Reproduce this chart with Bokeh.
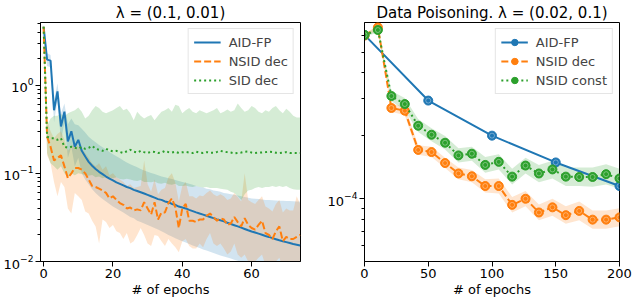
from bokeh.plotting import figure
from bokeh.models import Range1d, FixedTicker, LogTickFormatter, Legend, LegendItem
from bokeh.layouts import row
from bokeh.embed import file_html
from bokeh.resources import INLINE

BLUE = "#1f77b4"
ORANGE = "#ff7f0e"
GREEN = "#2ca02c"
FONT = "DejaVu Sans"

# ---------------- left panel data: lambda = (0.1, 0.01) ----------------
epochs_left = list(range(75))
aid_mean = [4.6, 1.95, 1.9, 0.52, 0.85, 0.34, 0.50, 0.23, 0.30, 0.20,
            0.24, 0.18, 0.155, 0.135, 0.122, 0.112, 0.104, 0.098, 0.092, 0.087,
            0.083, 0.079, 0.076, 0.073, 0.070, 0.068, 0.065, 0.063, 0.061, 0.059,
            0.057, 0.055, 0.053, 0.051, 0.050, 0.048, 0.047, 0.045, 0.044, 0.042,
            0.041, 0.040, 0.0385, 0.0373, 0.0361, 0.035, 0.034, 0.033, 0.032, 0.031,
            0.030, 0.0293, 0.0285, 0.0275, 0.0266, 0.0258, 0.025, 0.0242, 0.0234, 0.0226,
            0.0219, 0.0213, 0.0207, 0.0201, 0.0195, 0.019, 0.0184, 0.0179, 0.0174, 0.017,
            0.0166, 0.0162, 0.0158, 0.0155, 0.0152]
aid_hi = [4.9, 2.3, 2.2, 0.68, 1.05, 0.48, 0.62, 0.36, 0.42, 0.36,
          0.35, 0.32, 0.29, 0.26, 0.24, 0.225, 0.21, 0.198, 0.186, 0.175,
          0.165, 0.156, 0.148, 0.14, 0.133, 0.127, 0.122, 0.117, 0.112, 0.108,
          0.104, 0.101, 0.098, 0.095, 0.092, 0.09, 0.088, 0.086, 0.084, 0.082,
          0.08, 0.078, 0.076, 0.074, 0.072, 0.07, 0.069, 0.067, 0.066, 0.064,
          0.063, 0.062, 0.06, 0.059, 0.058, 0.057, 0.056, 0.055, 0.054, 0.053,
          0.052, 0.0515, 0.051, 0.0505, 0.05, 0.0498, 0.0495, 0.0492, 0.049, 0.0488,
          0.0486, 0.0484, 0.0482, 0.048, 0.048]
aid_lo = [4.3, 1.65, 1.6, 0.38, 0.68, 0.23, 0.38, 0.15, 0.2, 0.12,
          0.15, 0.1, 0.085, 0.075, 0.066, 0.06, 0.055, 0.051, 0.048, 0.045,
          0.042, 0.04, 0.038, 0.036, 0.034, 0.032, 0.031, 0.029, 0.028, 0.027,
          0.026, 0.025, 0.024, 0.023, 0.022, 0.021, 0.02, 0.0192, 0.0184, 0.0177,
          0.017, 0.0164, 0.0158, 0.0152, 0.0147, 0.0142, 0.0137, 0.0133, 0.0129, 0.0125,
          0.0121, 0.0117, 0.0114, 0.0111, 0.0108, 0.0105, 0.0102, 0.0099, 0.0097, 0.0095,
          0.0093, 0.0091, 0.0089, 0.0087, 0.0085, 0.0083, 0.0081, 0.0079, 0.0077, 0.0075,
          0.0073, 0.0071, 0.0069, 0.0067, 0.0065]

nsid_mean = [4.6, 0.26, 0.20, 0.14, 0.15, 0.16, 0.12, 0.088, 0.10, 0.115,
             0.115, 0.11, 0.10, 0.085, 0.072, 0.07, 0.067, 0.064, 0.06, 0.052,
             0.055, 0.05, 0.046, 0.044, 0.04, 0.041, 0.038, 0.039, 0.038, 0.047,
             0.04, 0.034, 0.047, 0.030, 0.036, 0.036, 0.046, 0.052, 0.041, 0.024,
             0.04, 0.045, 0.029, 0.029, 0.028, 0.03, 0.03, 0.033, 0.035, 0.032,
             0.029, 0.031, 0.03, 0.026, 0.027, 0.032, 0.028, 0.025, 0.031, 0.026,
             0.024, 0.023, 0.026, 0.029, 0.021, 0.02, 0.018, 0.022, 0.025, 0.017,
             0.019, 0.018, 0.018, 0.019, 0.020]
nsid_hi = [4.8, 0.4, 0.3, 0.25, 0.28, 0.3, 0.24, 0.18, 0.2, 0.22,
           0.2, 0.19, 0.17, 0.15, 0.13, 0.12, 0.13, 0.11, 0.12, 0.095,
           0.1, 0.09, 0.085, 0.08, 0.072, 0.075, 0.068, 0.07, 0.072, 0.14,
           0.075, 0.062, 0.085, 0.058, 0.065, 0.068, 0.09, 0.1, 0.078, 0.048,
           0.072, 0.08, 0.055, 0.055, 0.052, 0.056, 0.055, 0.06, 0.064, 0.058,
           0.055, 0.058, 0.055, 0.05, 0.052, 0.06, 0.054, 0.048, 0.1, 0.05,
           0.047, 0.045, 0.05, 0.055, 0.042, 0.04, 0.037, 0.045, 0.05, 0.036,
           0.04, 0.038, 0.038, 0.055, 0.045]
nsid_lo = [4.4, 0.16, 0.13, 0.08, 0.055, 0.08, 0.07, 0.04, 0.035, 0.06,
           0.055, 0.05, 0.037, 0.035, 0.029, 0.025, 0.016, 0.03, 0.028, 0.024,
           0.026, 0.022, 0.021, 0.018, 0.021, 0.016, 0.017, 0.02, 0.024, 0.02,
           0.016, 0.015, 0.02, 0.0195, 0.017, 0.015, 0.018, 0.016, 0.0145, 0.0127,
           0.017, 0.018, 0.015, 0.014, 0.014, 0.016, 0.0145, 0.018, 0.021, 0.016,
           0.015, 0.016, 0.014, 0.012, 0.013, 0.016, 0.012, 0.011, 0.012, 0.01,
           0.0095, 0.01, 0.011, 0.012, 0.009, 0.0095, 0.0085, 0.01, 0.011, 0.0085,
           0.009, 0.0085, 0.0085, 0.009, 0.0095]

sid_mean = [4.6, 0.26, 0.25, 0.25, 0.24, 0.25, 0.2, 0.195, 0.2, 0.195,
            0.19, 0.2, 0.19, 0.195, 0.205, 0.19, 0.185, 0.18, 0.19, 0.182,
            0.178, 0.18, 0.175, 0.17, 0.178, 0.185, 0.176, 0.172, 0.18, 0.174,
            0.17, 0.176, 0.175, 0.17, 0.172, 0.18, 0.174, 0.172, 0.176, 0.17,
            0.173, 0.175, 0.172, 0.17, 0.176, 0.172, 0.17, 0.174, 0.172, 0.171,
            0.175, 0.18, 0.176, 0.174, 0.172, 0.168, 0.17, 0.172, 0.176, 0.177,
            0.172, 0.17, 0.172, 0.172, 0.174, 0.176, 0.175, 0.171, 0.17, 0.172,
            0.174, 0.17, 0.171, 0.17, 0.17]
sid_hi = [4.8, 0.35, 0.42, 0.45, 0.45, 0.47, 0.44, 0.48, 0.5, 0.52,
          0.56, 0.5, 0.42, 0.45, 0.52, 0.58, 0.55, 0.5, 0.48, 0.5,
          0.52, 0.55, 0.58, 0.52, 0.54, 0.48, 0.40, 0.5, 0.45, 0.42,
          0.44, 0.46, 0.4, 0.45, 0.5, 0.52, 0.55, 0.5, 0.6, 0.58,
          0.48, 0.52, 0.55, 0.5, 0.48, 0.52, 0.5, 0.48, 0.5, 0.52,
          0.55, 0.48, 0.5, 0.53, 0.5, 0.52, 0.62, 0.55, 0.5, 0.52,
          0.58, 0.55, 0.5, 0.48, 0.52, 0.5, 0.55, 0.58, 0.52, 0.48,
          0.54, 0.5, 0.45, 0.43, 0.43]
sid_lo = [4.4, 0.17, 0.13, 0.12, 0.11, 0.12, 0.1, 0.09, 0.1, 0.095,
          0.1, 0.098, 0.095, 0.094, 0.096, 0.09, 0.092, 0.088, 0.09, 0.089,
          0.088, 0.09, 0.086, 0.085, 0.087, 0.085, 0.083, 0.082, 0.084, 0.08,
          0.08, 0.079, 0.081, 0.077, 0.076, 0.078, 0.075, 0.074, 0.076, 0.072,
          0.072, 0.073, 0.071, 0.07, 0.072, 0.07, 0.069, 0.07, 0.068, 0.068,
          0.068, 0.067, 0.066, 0.065, 0.062, 0.06, 0.055, 0.05, 0.058, 0.064,
          0.065, 0.068, 0.07, 0.068, 0.07, 0.07, 0.072, 0.07, 0.072, 0.07,
          0.072, 0.068, 0.066, 0.065, 0.065]

# ---------------- right panel data: Data Poisoning ----------------
aid_r_x = [0, 50, 100, 150, 200]
aid_r = [6.05e-4, 2.94e-4, 2.0e-4, 1.49e-4, 1.15e-4]
epochs_right = [0, 10.5, 21.1, 31.6, 42.1, 52.6, 63.2, 73.7, 84.2, 94.7,
                105.3, 115.8, 126.3, 136.8, 147.4, 157.9, 168.4, 178.9, 189.5, 200]
nsid_r = [6.0e-4, 6.57e-4, 2.71e-4, 2.63e-4, 1.71e-4, 1.67e-4, 1.48e-4, 1.32e-4, 1.28e-4, 1.15e-4,
          1.15e-4, 9.35e-5, 1.0e-4, 8.6e-5, 9.1e-5, 8.35e-5, 8.75e-5, 7.95e-5, 7.95e-5, 8.15e-5]
nsid_r_lo = [5.9e-4, 6.4e-4, 2.6e-4, 2.5e-4, 1.62e-4, 1.58e-4, 1.4e-4, 1.24e-4, 1.2e-4, 1.07e-4,
             1.06e-4, 8.6e-5, 9.2e-5, 7.9e-5, 8.3e-5, 7.6e-5, 7.9e-5, 7.2e-5, 7.2e-5, 7.4e-5]
nsid_r_hi = [6.1e-4, 6.75e-4, 2.83e-4, 2.77e-4, 1.8e-4, 1.77e-4, 1.57e-4, 1.41e-4, 1.37e-4, 1.24e-4,
             1.25e-4, 1.02e-4, 1.09e-4, 9.4e-5, 1.0e-4, 9.2e-5, 9.7e-5, 8.8e-5, 8.8e-5, 9.0e-5]
const_r = [6.04e-4, 6.38e-4, 3.09e-4, 2.83e-4, 2.23e-4, 2.02e-4, 1.85e-4, 1.61e-4, 1.64e-4, 1.45e-4,
           1.50e-4, 1.275e-4, 1.44e-4, 1.32e-4, 1.38e-4, 1.275e-4, 1.27e-4, 1.27e-4, 1.31e-4, 1.25e-4]
const_r_lo = [5.95e-4, 6.2e-4, 2.92e-4, 2.65e-4, 2.08e-4, 1.88e-4, 1.72e-4, 1.49e-4, 1.52e-4, 1.33e-4,
              1.38e-4, 1.17e-4, 1.32e-4, 1.2e-4, 1.25e-4, 1.15e-4, 1.15e-4, 1.14e-4, 1.17e-4, 1.12e-4]
const_r_hi = [6.15e-4, 6.55e-4, 3.27e-4, 3.02e-4, 2.4e-4, 2.17e-4, 1.99e-4, 1.74e-4, 1.77e-4, 1.58e-4,
              1.63e-4, 1.39e-4, 1.57e-4, 1.45e-4, 1.52e-4, 1.41e-4, 1.41e-4, 1.41e-4, 1.46e-4, 1.39e-4]

left_xticks = [0, 20, 40, 60]
right_xticks = [0, 50, 100, 150, 200]


def style(p):
    p.outline_line_color = "black"
    p.outline_line_width = 1
    p.xgrid.visible = False
    p.ygrid.visible = False
    p.background_fill_color = "white"
    p.border_fill_color = "white"
    for ax in (p.xaxis[0], p.yaxis[0]):
        ax.major_label_text_font = FONT
        ax.major_label_text_font_size = "13px"
        ax.major_label_text_color = "black"
        ax.major_label_text_line_height = 1.0
        ax.major_tick_out = 5
        ax.major_tick_in = 0
        ax.minor_tick_out = 3
        ax.minor_tick_in = 0
        ax.axis_line_color = "black"
        ax.major_tick_line_color = "black"
        ax.minor_tick_line_color = "black"
        ax.major_label_standoff = 2
    p.xaxis.minor_tick_line_color = None
    p.xaxis.axis_label = "# of epochs"
    p.xaxis.axis_label_text_font = FONT
    p.xaxis.axis_label_text_font_size = "13px"
    p.xaxis.axis_label_text_font_style = "normal"
    p.xaxis.axis_label_text_color = "black"
    p.xaxis.axis_label_text_line_height = 1.0
    p.xaxis.axis_label_standoff = 1
    p.title.text_font = FONT
    p.title.text_font_size = "15px"
    p.title.text_font_style = "normal"
    p.title.text_color = "black"
    p.title.text_line_height = 1.0
    p.title.align = "center"
    p.title.standoff = 2


def style_legend(leg):
    leg.location = "top_right"
    leg.margin = 6
    leg.padding = 5
    leg.spacing = 3
    leg.glyph_height = 16
    leg.glyph_width = 27
    leg.label_standoff = 8
    leg.label_text_font = FONT
    leg.label_text_font_size = "13px"
    leg.label_height = 16
    leg.border_line_color = "#cccccc"
    leg.border_line_width = 1
    leg.background_fill_alpha = 0.8


# ---------------- left figure ----------------
p1 = figure(width=319, height=299, title="λ = (0.1, 0.01)",
            x_range=Range1d(-0.9, 74.1), y_range=Range1d(0.01, 5.14),
            y_axis_type="log", output_backend="svg", toolbar_location=None,
            min_border_left=0, min_border_right=19, min_border_top=0, min_border_bottom=0)
style(p1)
p1.xaxis.ticker = FixedTicker(ticks=left_xticks)
p1.yaxis.ticker = FixedTicker(ticks=[0.01, 0.1, 1.0],
                              minor_ticks=[0.02, 0.03, 0.04, 0.05, 0.06, 0.07, 0.08, 0.09,
                                           0.2, 0.3, 0.4, 0.5, 0.6, 0.7, 0.8, 0.9, 2, 3, 4, 5])
p1.yaxis.formatter = LogTickFormatter()

p1.varea(x=epochs_left, y1=aid_lo, y2=aid_hi, fill_color=BLUE, fill_alpha=0.2)
p1.varea(x=epochs_left, y1=nsid_lo, y2=nsid_hi, fill_color=ORANGE, fill_alpha=0.2)
p1.varea(x=epochs_left, y1=sid_lo, y2=sid_hi, fill_color=GREEN, fill_alpha=0.2)
l1 = p1.line(epochs_left, aid_mean, line_color=BLUE, line_width=2)
l2 = p1.line(epochs_left, nsid_mean, line_color=ORANGE, line_width=2, line_dash="7 3")
l3 = p1.line(epochs_left, sid_mean, line_color=GREEN, line_width=2, line_dash="2 3")
leg1 = Legend(items=[LegendItem(label="AID-FP", renderers=[l1]),
                     LegendItem(label="NSID dec", renderers=[l2]),
                     LegendItem(label="SID dec", renderers=[l3])])
style_legend(leg1)
p1.add_layout(leg1)

# ---------------- right figure ----------------
p2 = figure(width=313, height=299, title="Data Poisoning. λ = (0.02, 0.1)",
            x_range=Range1d(0, 200), y_range=Range1d(5.02e-5, 6.93e-4),
            y_axis_type="log", output_backend="svg", toolbar_location=None,
            min_border_left=45, min_border_right=13, min_border_top=0, min_border_bottom=0)
style(p2)
p2.xaxis.ticker = FixedTicker(ticks=right_xticks)
p2.yaxis.ticker = FixedTicker(ticks=[1e-4],
                              minor_ticks=[6e-5, 7e-5, 8e-5, 9e-5, 2e-4, 3e-4, 4e-4, 5e-4, 6e-4])
p2.yaxis.formatter = LogTickFormatter()

p2.varea(x=epochs_right, y1=nsid_r_lo, y2=nsid_r_hi, fill_color=ORANGE, fill_alpha=0.2)
p2.varea(x=epochs_right, y1=const_r_lo, y2=const_r_hi, fill_color=GREEN, fill_alpha=0.2)

ra = p2.line(aid_r_x, aid_r, line_color=BLUE, line_width=2)
rs = p2.scatter(aid_r_x, aid_r, size=9, fill_color=BLUE, line_color=BLUE)
p2.scatter(aid_r_x, aid_r, size=5, fill_color=None, line_color="white", line_alpha=0.35)
rb = p2.line(epochs_right, nsid_r, line_color=ORANGE, line_width=2, line_dash="7 3")
rbs = p2.scatter(epochs_right, nsid_r, size=9, fill_color=ORANGE, line_color=ORANGE)
p2.scatter(epochs_right, nsid_r, size=5, fill_color=None, line_color="white", line_alpha=0.35)
rc = p2.line(epochs_right, const_r, line_color=GREEN, line_width=2, line_dash="2 3")
rcs = p2.scatter(epochs_right, const_r, size=9, fill_color=GREEN, line_color=GREEN)
p2.scatter(epochs_right, const_r, size=5, fill_color=None, line_color="white", line_alpha=0.35)

leg2 = Legend(items=[LegendItem(label="AID-FP", renderers=[ra, rs]),
                     LegendItem(label="NSID dec", renderers=[rb, rbs]),
                     LegendItem(label="NSID const", renderers=[rc, rcs])])
style_legend(leg2)
p2.add_layout(leg2)

layout = row(p1, p2)
open("out.html", "w").write(file_html(layout, INLINE))
